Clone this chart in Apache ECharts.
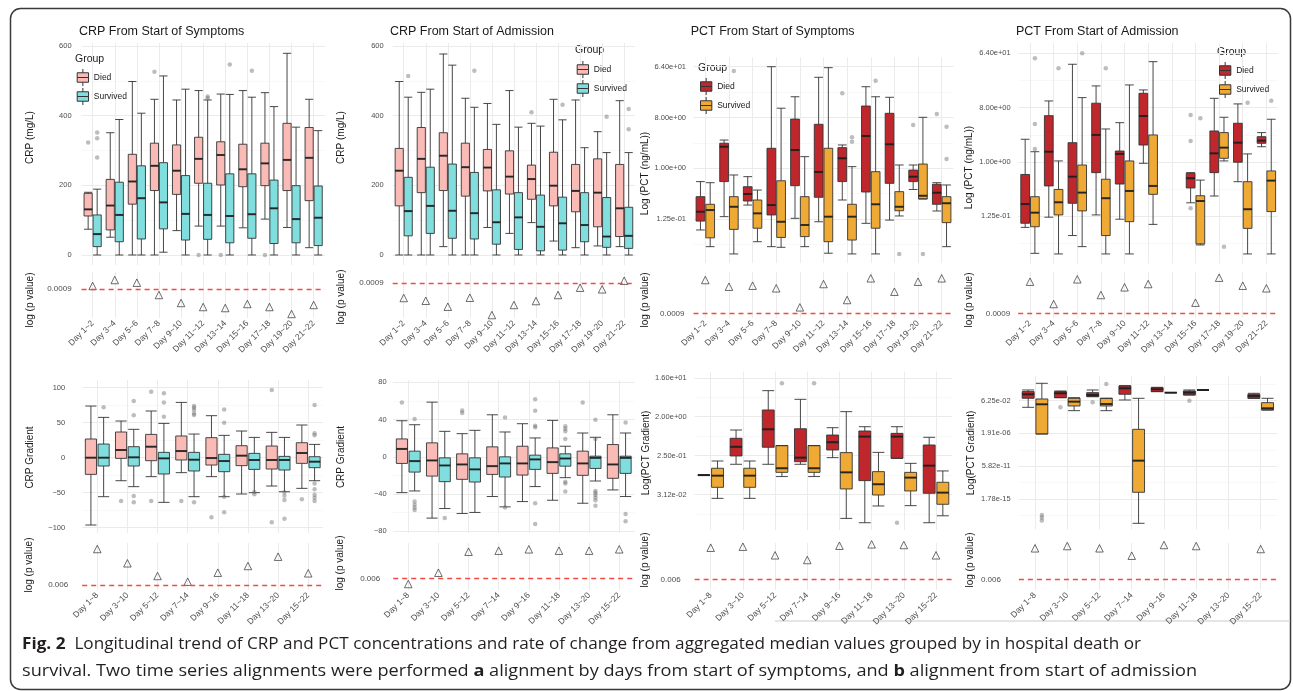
<!DOCTYPE html>
<html><head><meta charset="utf-8">
<script src="https://cdn.jsdelivr.net/npm/echarts@6/dist/echarts.min.js"></script>
<style>html,body{margin:0;padding:0;background:#fff}#c{width:1293px;height:691px}</style>
</head><body><div id="c"></div><script>
// ---------------- categories ----------------
const daysA = ['Day 1~2','Day 3~4','Day 5~6','Day 7~8','Day 9~10','Day 11~12','Day 13~14','Day 15~16','Day 17~18','Day 19~20','Day 21~22'];
const daysB = ['Day 1~8','Day 3~10','Day 5~12','Day 7~14','Day 9~16','Day 11~18','Day 13~20','Day 15~22'];

// ---------------- tick labels ----------------
const crpTicks = [0, 200, 400, 600];
const crpTickLabels = ['0', '200', '400', '600'];
const crpMinor = [100, 300, 500];
const pctTicks = [0.125, 1, 8, 64];
const pctTickLabels = ['1.25e-01', '1.00e+00', '8.00e+00', '6.40e+01'];
const pctMinor = [Math.pow(2,-4.5), Math.pow(2,-1.5), Math.pow(2,1.5), Math.pow(2,4.5)];
const crpGradSymTicks = [-100, -50, 0, 50, 100];
const crpGradSymTickLabels = ['\u2212100', '\u221250', '0', '50', '100'];
const crpGradSymMinor = [-75, -25, 25, 75];
const crpGradAdmTicks = [-80, -40, 0, 40, 80];
const crpGradAdmTickLabels = ['\u221280', '\u221240', '0', '40', '80'];
const crpGradAdmMinor = [-60, -20, 20, 60];
const pctGradSymTicks = [0.03125, 0.25, 2, 16];
const pctGradSymTickLabels = ['3.12e-02', '2.50e-01', '2.00e+00', '1.60e+01'];
const pctGradSymMinor = [Math.pow(2,-6.5), Math.pow(2,-3.5), Math.pow(2,-0.5), Math.pow(2,2.5)];
const pctGradAdmTicks = [Math.pow(2,-49), Math.pow(2,-34), Math.pow(2,-19), Math.pow(2,-4)];
const pctGradAdmTickLabels = ['1.78e-15', '5.82e-11', '1.91e-06', '6.25e-02'];
const pctGradAdmMinor = [Math.pow(2,-56.5), Math.pow(2,-41.5), Math.pow(2,-26.5), Math.pow(2,-11.5), Math.pow(2,3.5)];
const pThrA = 0.0009, pThrALabel = '0.0009';
const pThrB = 0.006, pThrBLabel = '0.006';

// ---------------- CRP from start of symptoms ([min, Q1, median, Q3, max]) ----------------
const crpSymDied = [[74,112,131,177,180],[51,72,142,217,351],[0,146,211,289,498],[0,185,256,321,447],[70,174,242,316,445],[83,206,276,338,472],[83,201,287,325,462],[78,196,246,318,472],[103,199,263,321,466],[79,185,273,378,579],[21,156,279,366,447]];
const crpSymSurv = [[0,24,60,115,189],[0,38,115,209,389],[0,46,163,256,407],[8,75,151,265,514],[0,43,118,228,476],[0,45,115,206,445],[0,35,112,233,461],[0,48,117,233,453],[0,33,134,215,426],[0,35,103,199,367],[0,27,107,198,357]];
const crpSymDiedOut = [[0,323],[3,526],[5,0],[6,0],[8,0]];
const crpSymSurvOut = [[0,352],[0,335],[0,280],[5,455],[5,450],[6,547],[7,529]];
const crpSymP = [1.32e-3,2.62e-3,1.92e-3,4.67e-4,1.86e-4,1.17e-4,1.04e-4,1.66e-4,1.17e-4,5.24e-5,1.48e-4];

// ---------------- CRP from start of admission ----------------
const crpAdmDied = [[0,141,242,306,498],[0,179,276,366,467],[24,185,285,351,577],[0,169,252,321,450],[79,184,251,303,435],[62,175,225,299,472],[93,160,218,258,378],[40,141,199,295,447],[21,124,184,260,445],[26,81,179,276,354],[24,53,134,260,443]];
const crpAdmSurv = [[0,55,126,223,453],[0,62,141,252,476],[0,48,127,261,545],[0,46,120,237,424],[0,31,94,187,375],[0,16,108,179,367],[0,12,81,172,370],[0,14,91,166,388],[0,38,86,179,308],[0,22,53,165,294],[0,19,55,137,294]];
const crpAdmDiedOut = [[6,410]];
const crpAdmSurvOut = [[0,514],[3,529],[7,431],[9,397],[10,419],[10,361]];
const crpAdmP = [1.66e-4,1.21e-4,6.08e-5,1.71e-4,2.34e-5,7.40e-5,1.17e-4,2.34e-4,5.42e-4,4.51e-4,1.21e-3];

// ---------------- PCT from start of symptoms (ng/mL) ----------------
const pctSymDied = [[0.080,0.115,0.169,0.313,0.58],[0.138,0.58,2.42,2.79,3.18],[0.222,0.262,0.349,0.47,0.71],[0.0404,0.148,0.222,2.27,64],[0.129,0.49,2.11,7.5,18.7],[0.112,0.305,0.86,6.06,41.5],[0.273,0.58,1.505,2.33,2.6],[0.105,0.379,3.75,12.8,28.2],[0.12,0.54,2.67,9.5,18.3],[0.42,0.58,0.71,0.93,1.145],[0.174,0.229,0.368,0.52,0.555]];
const pctSymSurv = [[0.0404,0.058,0.181,0.229,0.555],[0.030,0.082,0.207,0.313,0.76],[0.0495,0.086,0.158,0.273,0.41],[0.0394,0.059,0.112,0.60,11.7],[0.0404,0.061,0.098,0.313,1.61],[0.0309,0.0495,0.138,2.27,61.5],[0.030,0.053,0.138,0.229,1.07],[0.030,0.086,0.229,0.87,18.7],[0.142,0.176,0.207,0.384,1.145],[0.285,0.285,0.325,1.19,8.06],[0.0404,0.108,0.239,0.313,0.505]];
const pctSymDiedOut = [[6,21.6],[9,5.9],[10,9.2]];
const pctSymSurvOut = [[1,53.7],[6,3.56],[6,2.97],[7,36.1],[8,0.030],[9,0.030],[10,5.5],[10,1.46]];
const pctSymP = [0.0416,0.0192,0.0216,0.0160,0.00179,0.0262,0.00416,0.0506,0.0108,0.0342,0.0506];

// ---------------- PCT from start of admission ----------------
const pctAdmDied = [[0.082,0.096,0.20,0.62,2.38],[0.121,0.40,1.48,5.87,10.3],[0.060,0.206,0.57,2.09,41.9],[0.132,0.665,2.81,9.45,18.3],[0.112,0.43,1.36,1.52,4.49],[0.95,1.91,5.8,13.8,15.7],null,[0.21,0.37,0.536,0.65,0.665],[0.272,0.665,1.39,3.27,11.4],[0.47,0.99,2.09,4.39,9.2],[1.79,2.04,2.26,2.63,3.07]];
const pctAdmSurv = [[0.0304,0.084,0.144,0.265,1.48],[0.0297,0.132,0.214,0.35,1.04],[0.0393,0.154,0.31,0.89,11.7],[0.0297,0.060,0.25,0.517,3.53],[0.0297,0.102,0.33,1.04,19],[0.092,0.29,0.40,2.81,46.3],null,[0.0419,0.0437,0.225,0.275,0.50],[1.04,1.15,1.73,3.07,5.52],[0.0297,0.079,0.164,0.47,1.36],[0.0297,0.15,0.49,0.71,5.12]];
const pctAdmDiedOut = [[7,6.03],[7,2.23],[7,0.17]];
const pctAdmSurvOut = [[0,52.7],[0,4.28],[0,1.64],[1,36],[2,64],[3,36],[7,5.3],[8,0.0393],[9,9.65],[10,10.4]];
const pctAdmP = [0.0342,0.00262,0.0451,0.00740,0.0179,0.0262,null,0.00305,0.0542,0.0216,0.0160];

// ---------------- CRP gradient, symptoms ----------------
const crpGradSymDied = [[-96.2,-23.8,0,26.7,73.8],[-32.9,-1,11,36.7,52.4],[-27.1,-4.3,15.7,33.3,66.7],[-21.4,-3.3,9.5,31,79],[-27.1,-10.5,-0.5,28.6,60],[-51.9,-11.4,2.9,17.1,38.1],[-40.5,-16.2,-3.3,16.7,36.2],[-43.8,-8.1,6.7,21.4,46.7]];
const crpGradSymSurv = [[-55.7,-11.9,0,19.5,57.6],[-41.4,-11.9,0.5,15.7,40.5],[-63.8,-23.3,-1,7.6,49],[-55.7,-19,-2.9,7.6,33.8],[-55.7,-20,-4.8,4.8,31.9],[-50,-16.7,-3.3,6.2,29],[-48.6,-17.6,-3.3,1.9,29],[-32.9,-14.3,-5.7,1.4,19]];
const crpGradSymDiedOut = [[1,-61.9],[2,94.3],[2,-61.9],[3,-61.9],[4,-85.2],[6,96.7],[6,-92.4],[7,-59.5]];
const crpGradSymSurvOut = [[0,71.9],[1,81],[1,60.5],[1,-54.8],[1,-63.8],[2,91.9],[2,79],[2,58.6],[3,73.8],[3,71.4],[3,68.1],[3,63.3],[3,61],[3,-63.8],[4,69],[4,50],[4,-55.7],[4,-78.1],[5,-52.4],[5,-49],[6,-49.5],[6,-54.3],[6,-60.5],[6,-87.1],[7,75.2],[7,34.8],[7,31.9],[7,-36.7],[7,-45.2],[7,-52.9],[7,-57.1],[7,-61.9]];
const crpGradSymP = [0.378,0.0730,0.0169,0.00877,0.0247,0.0535,0.156,0.0231];

// ---------------- CRP gradient, admission ----------------
const crpGradAdmDied = [[-38.5,-7.1,8.5,19.2,38.8],[-65.9,-20.7,-3.9,15,58.8],[-60.9,-24.2,-8.2,3.2,24.9],[-42.7,-18.9,-10,10.7,45.2],[-48.1,-19.6,-7.1,11.4,35.6],[-46.7,-17.8,-5.7,9.6,39.2],[-49.9,-19.9,-7.1,6.1,25.6],[-35.6,-23.1,-8.2,13.2,45.2]];
const crpGradAdmSurv = [[-36.7,-16.4,-4.6,6.1,34.5],[-55.6,-26.7,-9.3,-1.1,27.4],[-59.8,-27.1,-13.5,-1.1,28.5],[-53.8,-21.7,-7.1,0,26.7],[-32,-13.5,-2.8,1.8,20.3],[-22.4,-10,-1.8,3.2,11.4],[-26,-12.5,-1.1,0.7,21],[-42.7,-17.8,-1.1,0.7,25.6]];
const crpGradAdmDiedOut = [[0,58.4],[2,49.9],[2,47],[6,58.4]];
const crpGradAdmSurvOut = [[0,40.6],[0,-48.1],[0,-51.6],[0,-54.5],[0,-57.3],[1,-65.9],[3,42.4],[3,-54.5],[4,62],[4,49.5],[4,33.5],[4,31.7],[4,-49.9],[4,-72.3],[5,32.8],[5,30.3],[5,27.4],[5,19.2],[5,-26.7],[5,-28.8],[5,-37.4],[6,39.9],[6,19.2],[6,-36.7],[6,-38.5],[6,-41],[6,-43.8],[6,-46.7],[6,-52.7],[7,37],[7,-61.6],[7,-69.4]];
const crpGradAdmP = [0.00311,0.0114,0.128,0.144,0.169,0.144,0.144,0.169];

// ---------------- PCT gradient, symptoms ----------------
const pctGradSymDied = [[0.088,0.088,0.088,0.088,0.088],[0.157,0.245,0.40,0.63,0.98],[0.157,0.39,1.02,2.86,8.05],[0.157,0.18,0.224,1.05,5.06],[0.224,0.337,0.51,0.75,1.11],[0.0069,0.0655,0.69,0.93,1.17],[0.216,0.216,0.69,0.82,1.17],[0.0069,0.0333,0.146,0.44,0.664]];
const pctGradSymSurv = [[0.0254,0.0458,0.0855,0.127,0.187],[0.0254,0.0458,0.0855,0.127,0.187],[0.0814,0.102,0.127,0.426,0.426],[0.0814,0.102,0.127,0.426,0.426],[0.0087,0.042,0.102,0.293,2.62],[0.0169,0.0304,0.054,0.106,0.297],[0.0172,0.0377,0.077,0.102,0.165],[0.01,0.0185,0.0345,0.06,0.11]];
const pctGradSymDiedOut = [[6,0.0069]];
const pctGradSymSurvOut = [[2,11.9],[3,11.9]];
const pctGradSymP = [0.228,0.256,0.0951,0.0553,0.287,0.337,0.311,0.0951];

// ---------------- PCT gradient, admission ----------------
const pctGradAdmDied = [[0.0075,0.131,0.467,1.09,1.84],[0.161,0.161,0.64,1.09,1.34],[0.222,0.222,0.376,0.79,1.84],[0.077,0.467,3.12,6.5,7.3],[1.09,1.09,2.28,3.86,4.29],[0.376,0.376,0.79,1.34,1.84],null,[0.131,0.131,0.275,0.467,0.64]];
const pctGradAdmSurv = [[1.6e-6,1.6e-6,0.0195,0.106,15.2],[0.0026,0.0115,0.0455,0.131,0.161],[0.0026,0.0115,0.0217,0.131,0.131],[8e-19,1.5e-14,3.4e-10,7e-6,0.131],[0.79,0.79,0.79,0.79,0.79],[1.84,1.84,1.84,1.84,1.84],null,[0.0032,0.0032,0.0055,0.0330,0.131]];
const pctGradAdmDiedOut = [[1,0.0075],[2,0.037],[5,0.0625]];
const pctGradAdmSurvOut = [[0,1.1e-17],[0,4.9e-18],[0,1.87e-18],[2,12.4]];
const pctGradAdmP = [0.213,0.277,0.213,0.0908,0.311,0.277,null,0.196];

// ---------------- styling ----------------
const FONT = '"Liberation Sans", Arial, Helvetica, sans-serif';
const GRID_MAJOR = '#EBEBEB', GRID_MINOR = '#F5F5F5', TICK_COLOR = '#4D4D4D', TXT = '#1A1A1A';
const CRP_COLORS = ['#FABBB7', '#80DEDF'];
const PCT_COLORS = ['#C0272D', '#EFA935'];
const BOX_ICON = 'path://M6,0L6,4M6,14L6,18M0,4L12,4L12,14L0,14ZM0,9L12,9';

const option = {animation:false, backgroundColor:'#fff', textStyle:{fontFamily:FONT},
  legend:[], grid:[], xAxis:[], yAxis:[], series:[], graphic:[]};

function fmt(ticks, labels) {
  return function (v) {
    for (let i = 0; i < ticks.length; i++) {
      if (Math.abs(v - ticks[i]) <= Math.abs(ticks[i]) * 1e-5 + 1e-12) return labels[i];
    }
    return '';
  };
}

function addBox(c) {
  const gi = option.grid.length;
  option.grid.push({left:c.left, top:c.top, width:c.width, height:c.height});
  const xi = option.xAxis.length;
  option.xAxis.push({type:'category', gridIndex:gi, data:c.cats,
    axisLine:{show:false}, axisTick:{show:false, interval:0}, axisLabel:{show:false, interval:0},
    splitLine:{show:true, interval:0, alignWithLabel:true, lineStyle:{color:GRID_MAJOR, width:1}}});
  const yi = option.yAxis.length;
  const base = {type:c.log ? 'log' : 'value', gridIndex:gi, min:c.min, max:c.max, axisLine:{show:false}};
  if (c.log) base.logBase = 2;
  option.yAxis.push(Object.assign({}, base, {
    axisTick:{show:false, customValues:c.ticks},
    axisLabel:{customValues:c.ticks, formatter:fmt(c.ticks, c.labels), fontSize:7.5, color:TICK_COLOR, margin:c.labelMargin},
    splitLine:{show:true, lineStyle:{color:GRID_MAJOR, width:1}}}));
  option.yAxis.push(Object.assign({}, base, {
    axisTick:{show:false, customValues:c.minor},
    axisLabel:{show:false, customValues:c.minor},
    splitLine:{show:true, lineStyle:{color:GRID_MINOR, width:0.7}}}));
  const n = c.cats.length, band = c.width / n, avail = band * 0.8 - 2;
  const off = avail * 0.2875, bw = band * 0.37;
  [[c.died, c.diedOut, c.colors[0], 'Died', -off], [c.surv, c.survOut, c.colors[1], 'Survived', off]].forEach(function (g) {
    const d = g[0], o = g[1], col = g[2], name = g[3], dx = g[4];
    option.series.push({type:'boxplot', name:name, xAxisIndex:xi, yAxisIndex:yi, boxWidth:[bw, bw],
      data:d.map(v => v ? v.slice() : ['-','-','-','-','-']),
      itemStyle:{color:col, borderColor:'#333333', borderWidth:0.9}, silent:true, z:2});
    option.series.push({type:'scatter', name:name + ' median', xAxisIndex:xi, yAxisIndex:yi,
      data:d.map((v, i) => v ? [i, v[2]] : null).filter(Boolean),
      symbol:'rect', symbolSize:[bw, 2], symbolOffset:[dx, 0], itemStyle:{color:'#1A1A1A'}, silent:true, z:3});
    option.series.push({type:'scatter', name:name + ' outliers', xAxisIndex:xi, yAxisIndex:yi,
      data:o.map(p => p.slice()), symbol:'circle', symbolSize:4.5, symbolOffset:[dx, 0],
      itemStyle:{color:'rgba(105,105,105,0.55)'}, silent:true, z:4});
  });
}

function addStrip(c) {
  const gi = option.grid.length;
  option.grid.push({left:c.left, top:c.top, width:c.width, height:c.height});
  const xi = option.xAxis.length;
  option.xAxis.push({type:'category', gridIndex:gi, data:c.cats,
    axisLine:{show:false}, axisTick:{show:false, interval:0},
    axisLabel:{interval:0, rotate:45, fontSize:8.5, color:TICK_COLOR, margin:4},
    splitLine:{show:true, interval:0, alignWithLabel:true, lineStyle:{color:GRID_MAJOR, width:1}}});
  const yi = option.yAxis.length;
  option.yAxis.push({type:'log', logBase:10, gridIndex:gi, min:c.min, max:c.max,
    axisLine:{show:false}, axisTick:{show:false, customValues:[c.thr]},
    axisLabel:{customValues:[c.thr], formatter:() => c.thrLabel, fontSize:8, color:TICK_COLOR, margin:c.labelMargin},
    splitLine:{show:false}});
  option.series.push({type:'scatter', name:'p value', xAxisIndex:xi, yAxisIndex:yi,
    data:c.p.map((v, i) => v == null ? null : [i, v]).filter(Boolean),
    symbol:'triangle', symbolSize:7.5, itemStyle:{color:'rgba(255,255,255,0)', borderColor:'#333333', borderWidth:0.9},
    silent:true, z:4,
    markLine:{silent:true, symbol:'none', precision:8, label:{show:false},
      lineStyle:{color:'#F24A43', type:[5,4], width:1.3}, data:[{yAxis:c.thr}]}});
}

function addLegend(left, top, colors, gx, gy) {
  option.legend.push({left:left, top:top, padding:0, orient:'vertical', itemWidth:12, itemHeight:17, itemGap:1,
    selectedMode:false, textStyle:{fontSize:8.5, color:TXT, fontFamily:FONT},
    data:[{name:'Died', icon:BOX_ICON, itemStyle:{color:colors[0], borderColor:'#333333', borderWidth:1}},
          {name:'Survived', icon:BOX_ICON, itemStyle:{color:colors[1], borderColor:'#333333', borderWidth:1}}]});
  option.graphic.push({type:'text', x:gx, y:gy, silent:true,
    style:{text:'Group', fontSize:10.5, fontFamily:FONT, fill:TXT, align:'left', verticalAlign:'middle'}});
}

function addText(t, x, y, size, rotate, align) {
  option.graphic.push({type:'text', x:x, y:y, rotation:rotate ? Math.PI / 2 : 0, silent:true,
    style:{text:t, fontSize:size, fontFamily:FONT, fill:TXT, align:align || 'center', verticalAlign:'middle'}});
}

// ---------------- top row ----------------
addBox({left:81.6, top:43.2, width:243.1, height:221.9, cats:daysA, min:-29, max:608, ticks:crpTicks, labels:crpTickLabels, minor:crpMinor, labelMargin:10,
  died:crpSymDied, surv:crpSymSurv, diedOut:crpSymDiedOut, survOut:crpSymSurvOut, colors:CRP_COLORS});
addStrip({left:81.6, top:272, width:243.1, height:46, cats:daysA, p:crpSymP, thr:pThrA, thrLabel:pThrALabel, min:3.30e-5, max:6.59e-3, labelMargin:10});

addBox({left:392.7, top:43.2, width:242.5, height:221.9, cats:daysA, min:-29, max:608, ticks:crpTicks, labels:crpTickLabels, minor:crpMinor, labelMargin:9,
  died:crpAdmDied, surv:crpAdmSurv, diedOut:crpAdmDiedOut, survOut:crpAdmSurvOut, colors:CRP_COLORS});
addStrip({left:392.7, top:272, width:242.5, height:46, cats:daysA, p:crpAdmP, thr:pThrA, thrLabel:pThrALabel, min:1.66e-5, max:3.30e-3, labelMargin:9});

addBox({left:693.5, top:57.4, width:260, height:205.7, cats:daysA, log:true, min:Math.pow(2,-5.6), max:Math.pow(2,6.55), ticks:pctTicks, labels:pctTickLabels, minor:pctMinor, labelMargin:7.5,
  died:pctSymDied, surv:pctSymSurv, diedOut:pctSymDiedOut, survOut:pctSymSurvOut, colors:PCT_COLORS});
addStrip({left:693.5, top:272, width:260, height:46, cats:daysA, p:pctSymP, thr:pThrA, thrLabel:pThrALabel, min:5.24e-4, max:0.1045, labelMargin:9});

addBox({left:1018.2, top:43.2, width:260, height:220.3, cats:daysA, log:true, min:Math.pow(2,-5.6), max:Math.pow(2,6.55), ticks:pctTicks, labels:pctTickLabels, minor:pctMinor, labelMargin:7.5,
  died:pctAdmDied, surv:pctAdmSurv, diedOut:pctAdmDiedOut, survOut:pctAdmSurvOut, colors:PCT_COLORS});
addStrip({left:1018.2, top:272, width:260, height:46, cats:daysA, p:pctAdmP, thr:pThrA, thrLabel:pThrALabel, min:5.24e-4, max:0.1045, labelMargin:8});

// ---------------- bottom row ----------------
addBox({left:82.2, top:380, width:241.1, height:153, cats:daysB, min:-107.6, max:111, ticks:crpGradSymTicks, labels:crpGradSymTickLabels, minor:crpGradSymMinor, labelMargin:17,
  died:crpGradSymDied, surv:crpGradSymSurv, diedOut:crpGradSymDiedOut, survOut:crpGradSymSurvOut, colors:CRP_COLORS});
addStrip({left:82.2, top:543, width:241.1, height:47, cats:daysB, p:crpGradSymP, thr:pThrB, thrLabel:pThrBLabel, min:0.00337, max:0.755, labelMargin:14});

addBox({left:393.2, top:380, width:241.1, height:153, cats:daysB, min:-81.9, max:82.6, ticks:crpGradAdmTicks, labels:crpGradAdmTickLabels, minor:crpGradAdmMinor, labelMargin:6.5,
  died:crpGradAdmDied, surv:crpGradAdmSurv, diedOut:crpGradAdmDiedOut, survOut:crpGradAdmSurvOut, colors:CRP_COLORS});
addStrip({left:393.2, top:543, width:241.1, height:47, cats:daysB, p:crpGradAdmP, thr:pThrB, thrLabel:pThrBLabel, min:0.00156, max:0.349, labelMargin:13});

addBox({left:694.6, top:371.7, width:257.5, height:158.3, cats:daysB, log:true, min:Math.pow(2,-7.74), max:Math.pow(2,4.47), ticks:pctGradSymTicks, labels:pctGradSymTickLabels, minor:pctGradSymMinor, labelMargin:8,
  died:pctGradSymDied, surv:pctGradSymSurv, diedOut:pctGradSymDiedOut, survOut:pctGradSymSurvOut, colors:PCT_COLORS});
addStrip({left:694.6, top:543, width:257.5, height:47, cats:daysB, p:pctGradSymP, thr:pThrB, thrLabel:pThrBLabel, min:0.00175, max:0.392, labelMargin:14});

addBox({left:1018.9, top:375.5, width:257.9, height:154.1, cats:daysB, log:true, min:Math.pow(2,-63), max:Math.pow(2,7.5), ticks:pctGradAdmTicks, labels:pctGradAdmTickLabels, minor:pctGradAdmMinor, labelMargin:8.2,
  died:pctGradAdmDied, surv:pctGradAdmSurv, diedOut:pctGradAdmDiedOut, survOut:pctGradAdmSurvOut, colors:PCT_COLORS});
addStrip({left:1018.9, top:543, width:257.9, height:47, cats:daysB, p:pctGradAdmP, thr:pThrB, thrLabel:pThrBLabel, min:0.00175, max:0.392, labelMargin:18});

// ---------------- legends ----------------
addLegend(76.7, 68.5, CRP_COLORS, 75, 59);
addLegend(576.7, 60.5, CRP_COLORS, 575, 50);
addLegend(700, 77.5, PCT_COLORS, 698, 68);
addLegend(1219, 61.5, PCT_COLORS, 1217, 52);

// ---------------- titles & axis titles ----------------
addText('CRP From Start of Symptoms', 79, 31.7, 12.5, false, 'left');
addText('CRP From Start of Admission', 390, 31.7, 12.5, false, 'left');
addText('PCT From Start of Symptoms', 690.7, 31.7, 12.5, false, 'left');
addText('PCT From Start of Admission', 1016, 31.7, 12.5, false, 'left');
addText('CRP (mg/L)', 30, 137.5, 10, true);
addText('CRP (mg/L)', 341.7, 137.5, 10, true);
addText('Log (PCT (ng/mL))', 645, 173.5, 10, true);
addText('Log (PCT (ng/mL))', 969.3, 167.5, 10, true);
addText('log (p value)', 30, 300, 10, true);
addText('log (p value)', 341.7, 297, 10, true);
addText('log (p value)', 645, 300, 10, true);
addText('log (p value)', 969, 300, 10, true);
addText('CRP Gradient', 30, 457.5, 10, true);
addText('CRP Gradient', 341.7, 457, 10, true);
addText('Log(PCT Gradient)', 646, 453, 10, true);
addText('Log(PCT Gradient)', 971, 453, 10, true);
addText('log (p value)', 29.3, 565, 10, true);
addText('log (p value)', 340.7, 563, 10, true);
addText('log (p value)', 645, 560, 10, true);
addText('log (p value)', 970, 560, 10, true);

// ---------------- frame & caption ----------------
option.graphic.push({type:'rect', silent:true, z:-10, shape:{x:10.5, y:8.5, width:1280, height:681, r:10},
  style:{fill:'none', stroke:'#3A3A3A', lineWidth:1.5}});
option.graphic.push({type:'line', silent:true, shape:{x1:775, y1:621, x2:1290, y2:621}, style:{stroke:'#DDDDDD', lineWidth:1.5}});

const CAP_FONT = '"Open Sans", "Noto Sans", sans-serif';
const CAP_SIZE = 15.5;
const capLine1 = [['Fig. 2', true], ['  Longitudinal trend of CRP and PCT concentrations and rate of change from aggregated median values grouped by in hospital death or', false]];
const capLine2 = [['survival. Two time series alignments were performed ', false], ['a', true], [' alignment by days from start of symptoms, and ', false], ['b', true], [' alignment from start of admission', false]];
const measureCtx = document.createElement('canvas').getContext('2d');
function capWidth(parts) {
  let w = 0;
  parts.forEach(p => { measureCtx.font = (p[1] ? 'bold ' : '') + CAP_SIZE + 'px ' + CAP_FONT; w += measureCtx.measureText(p[0]).width; });
  return w;
}
function capText(parts) { return parts.map(p => p[1] ? '{b|' + p[0] + '}' : p[0]).join(''); }
const capRich = {b:{fontWeight:'bold', fontSize:CAP_SIZE, fontFamily:CAP_FONT, fill:'#231F20'}};
[[capLine1, 645, 1119], [capLine2, 671.5, 1175]].forEach(function (l) {
  option.graphic.push({type:'text', x:22, y:l[1], silent:true, scaleX:l[2] / capWidth(l[0]),
    style:{text:capText(l[0]), rich:capRich, fontSize:CAP_SIZE, fontFamily:CAP_FONT, fill:'#231F20', align:'left', verticalAlign:'middle'}});
});

const chart = echarts.init(document.getElementById('c'), null, {renderer:'canvas', width:1293, height:691});
chart.setOption(option);
</script></body></html>
